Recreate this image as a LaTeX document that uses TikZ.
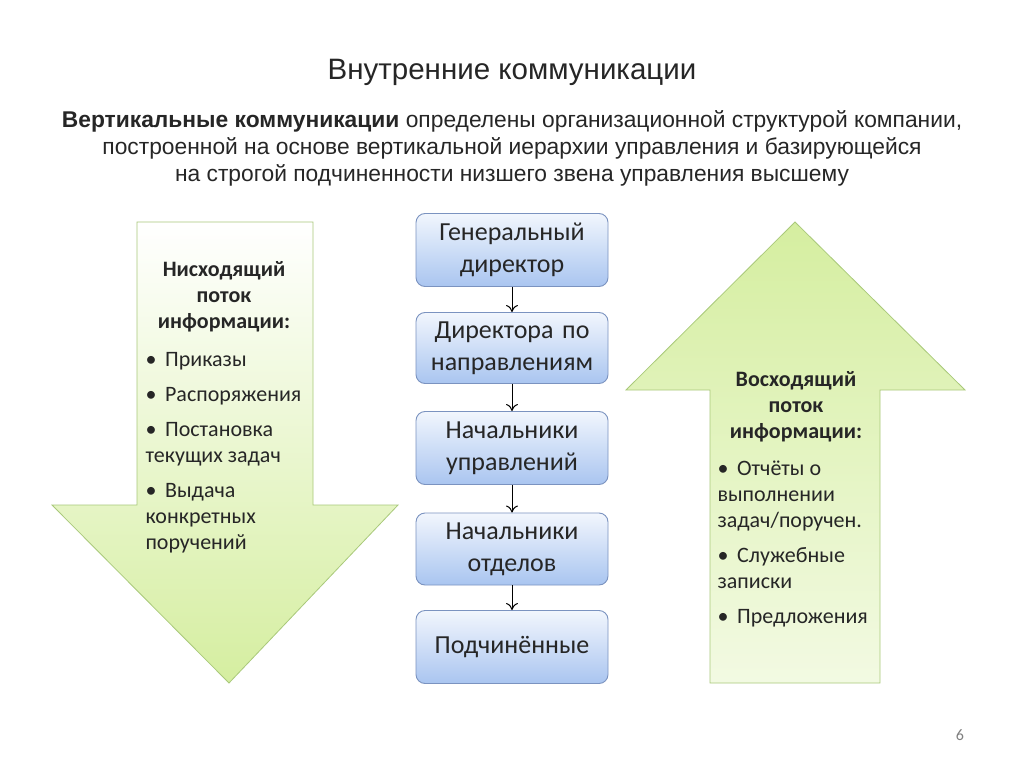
\documentclass[tikz,border=0pt]{standalone}
\usepackage{fontspec}
\setmainfont{Carlito}
\newfontfamily\arialf{Liberation Sans}
\usetikzlibrary{arrows.meta}
\definecolor{txt}{HTML}{262626}
\definecolor{boxedge}{HTML}{7B93C0}
\definecolor{boxtop}{HTML}{F2F6FD}
\definecolor{boxbot}{HTML}{A9C5F0}
\definecolor{grn}{HTML}{D5EEA0}
\definecolor{grnedge}{HTML}{A9C97A}
\tikzset{
 orgbox/.style={draw=boxedge, line width=0.9pt, rounded corners=9pt, top color=boxtop, bottom color=boxbot,
   minimum width=192pt, text width=188pt, align=center, font=\fontsize{26}{32}\selectfont, text=txt, inner sep=2pt},
 link/.style={-{To[length=7pt,width=12pt]}, line width=1pt, black},
 arrowtext/.style={text=txt, font=\fontsize{22}{26}\selectfont, align=left, anchor=north west}
}
\begin{document}
\begin{tikzpicture}[x=1pt,y=-1pt]
\useasboundingbox (0,0) rectangle (1024,767);
\fill[white] (0,0) rectangle (1024,767);
\node[text=txt, font=\arialf\fontsize{29.5}{34}\selectfont] (title) at (512,72) {Внутренние коммуникации};
\node[text=txt, font=\arialf\fontsize{22.8}{27}\selectfont, align=center] (sub) at (512,148)
 {\textbf{Вертикальные коммуникации} определены организационной структурой компании,\\
  построенной на основе вертикальной иерархии управления и базирующейся\\
  на строгой подчиненности низшего звена управления высшему};
% left down arrow
\shade[top color=white, bottom color=grn, draw=grnedge, line width=0.8pt]
 (137,222) -- (313,222) -- (313,505) -- (398,505) -- (229,683) -- (52,505) -- (137,505) -- cycle;
% right up arrow
\shade[top color=grn, bottom color=white!70!grn, draw=grnedge, line width=0.8pt]
 (795,222) -- (965,390) -- (880,390) -- (880,683) -- (710,683) -- (710,390) -- (626,390) -- cycle;
\node[text=txt, font=\bfseries\fontsize{22}{26}\selectfont, align=center] (lh) at (224,297) {Нисходящий\\поток\\информации:};
\node[arrowtext] (ll) at (142,345) {\begin{tabular}{@{}l@{}}
•\, Приказы\\[9pt]
•\, Распоряжения\\[9pt]
•\, Постановка\\текущих задач\\[9pt]
•\, Выдача\\конкретных\\поручений\end{tabular}};
\node[text=txt, font=\bfseries\fontsize{22}{26}\selectfont, align=center] (rh) at (796,407) {Восходящий\\поток\\информации:};
\node[arrowtext] (rl) at (714,454) {\begin{tabular}{@{}l@{}}
•\, Отчёты о\\выполнении\\задач/поручен.\\[9pt]
•\, Служебные\\записки\\[9pt]
•\, Предложения\end{tabular}};
\node[orgbox, minimum height=73pt] (b1) at (512,250) {Генеральный\\директор};
\node[orgbox, minimum height=71pt] (b2) at (512,348) {Директора по\\направлениям};
\node[orgbox, minimum height=73pt] (b3) at (512,448) {Начальники\\управлений};
\node[orgbox, minimum height=72pt] (b4) at (512,549) {Начальники\\отделов};
\node[orgbox, minimum height=73pt] (b5) at (512,647) {Подчинённые};
\draw[link] (b1) -- (b2);
\draw[link] (b2) -- (b3);
\draw[link] (b3) -- (b4);
\draw[link] (b4) -- (b5);
\node[text=gray, font=\fontsize{16}{18}\selectfont] (pg) at (960,735) {6};
\end{tikzpicture}
\end{document}
